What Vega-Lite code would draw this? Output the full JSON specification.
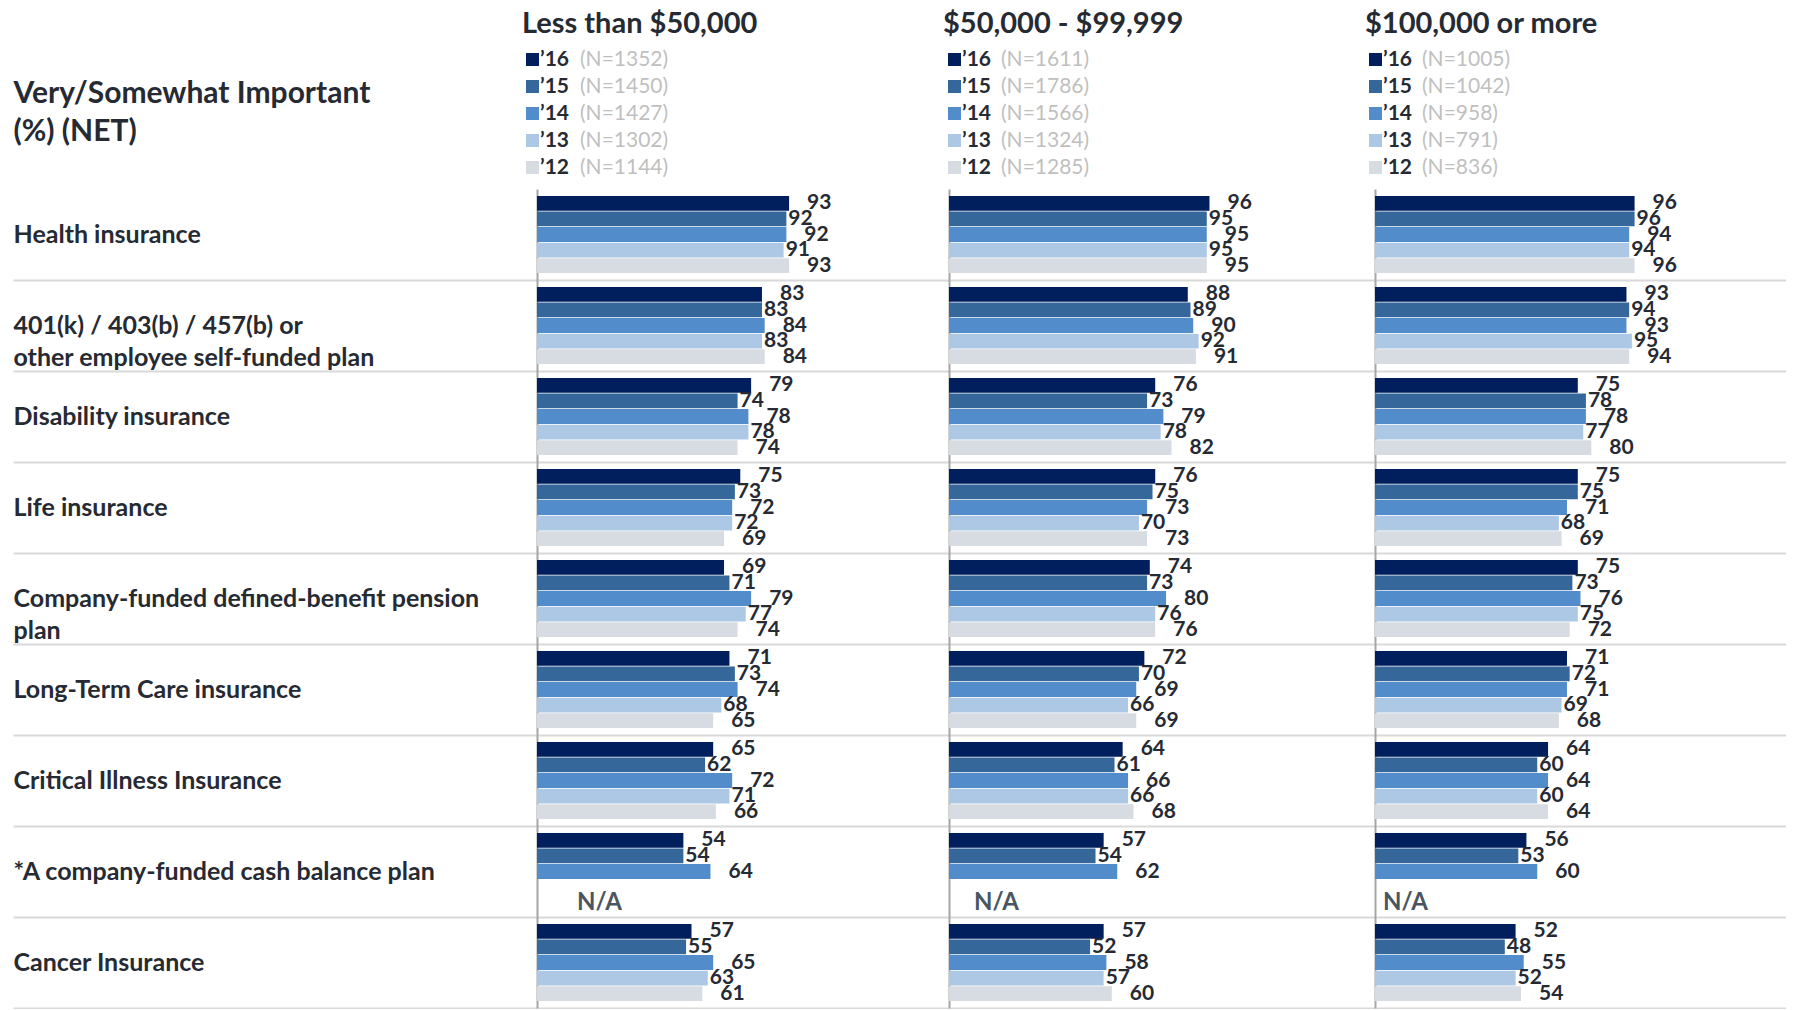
{
"$schema": "https://vega.github.io/schema/vega-lite/v6.json",
"padding": {"left": 12, "top": 10, "right": 0, "bottom": 0},
"background": "white",
"config": {"view": {"stroke": null}, "font": "Lato"},
"datasets": {
"p1": [
{"item":"Health insurance","year":"’16","v":93,"n":"(N=1352)"},
{"item":"Health insurance","year":"’15","v":92,"n":"(N=1450)"},
{"item":"Health insurance","year":"’14","v":92,"n":"(N=1427)"},
{"item":"Health insurance","year":"’13","v":91,"n":"(N=1302)"},
{"item":"Health insurance","year":"’12","v":93,"n":"(N=1144)"},
{"item":"401(k) / 403(b) / 457(b) or other employee self-funded plan","year":"’16","v":83,"n":"(N=1352)"},
{"item":"401(k) / 403(b) / 457(b) or other employee self-funded plan","year":"’15","v":83,"n":"(N=1450)"},
{"item":"401(k) / 403(b) / 457(b) or other employee self-funded plan","year":"’14","v":84,"n":"(N=1427)"},
{"item":"401(k) / 403(b) / 457(b) or other employee self-funded plan","year":"’13","v":83,"n":"(N=1302)"},
{"item":"401(k) / 403(b) / 457(b) or other employee self-funded plan","year":"’12","v":84,"n":"(N=1144)"},
{"item":"Disability insurance","year":"’16","v":79,"n":"(N=1352)"},
{"item":"Disability insurance","year":"’15","v":74,"n":"(N=1450)"},
{"item":"Disability insurance","year":"’14","v":78,"n":"(N=1427)"},
{"item":"Disability insurance","year":"’13","v":78,"n":"(N=1302)"},
{"item":"Disability insurance","year":"’12","v":74,"n":"(N=1144)"},
{"item":"Life insurance","year":"’16","v":75,"n":"(N=1352)"},
{"item":"Life insurance","year":"’15","v":73,"n":"(N=1450)"},
{"item":"Life insurance","year":"’14","v":72,"n":"(N=1427)"},
{"item":"Life insurance","year":"’13","v":72,"n":"(N=1302)"},
{"item":"Life insurance","year":"’12","v":69,"n":"(N=1144)"},
{"item":"Company-funded defined-benefit pension plan","year":"’16","v":69,"n":"(N=1352)"},
{"item":"Company-funded defined-benefit pension plan","year":"’15","v":71,"n":"(N=1450)"},
{"item":"Company-funded defined-benefit pension plan","year":"’14","v":79,"n":"(N=1427)"},
{"item":"Company-funded defined-benefit pension plan","year":"’13","v":77,"n":"(N=1302)"},
{"item":"Company-funded defined-benefit pension plan","year":"’12","v":74,"n":"(N=1144)"},
{"item":"Long-Term Care insurance","year":"’16","v":71,"n":"(N=1352)"},
{"item":"Long-Term Care insurance","year":"’15","v":73,"n":"(N=1450)"},
{"item":"Long-Term Care insurance","year":"’14","v":74,"n":"(N=1427)"},
{"item":"Long-Term Care insurance","year":"’13","v":68,"n":"(N=1302)"},
{"item":"Long-Term Care insurance","year":"’12","v":65,"n":"(N=1144)"},
{"item":"Critical Illness Insurance","year":"’16","v":65,"n":"(N=1352)"},
{"item":"Critical Illness Insurance","year":"’15","v":62,"n":"(N=1450)"},
{"item":"Critical Illness Insurance","year":"’14","v":72,"n":"(N=1427)"},
{"item":"Critical Illness Insurance","year":"’13","v":71,"n":"(N=1302)"},
{"item":"Critical Illness Insurance","year":"’12","v":66,"n":"(N=1144)"},
{"item":"*A company-funded cash balance plan","year":"’16","v":54,"n":"(N=1352)"},
{"item":"*A company-funded cash balance plan","year":"’15","v":54,"n":"(N=1450)"},
{"item":"*A company-funded cash balance plan","year":"’14","v":64,"n":"(N=1427)"},
{"item":"*A company-funded cash balance plan","year":"’13","v":null,"n":"(N=1302)"},
{"item":"*A company-funded cash balance plan","year":"’12","v":null,"n":"(N=1144)"},
{"item":"Cancer Insurance","year":"’16","v":57,"n":"(N=1352)"},
{"item":"Cancer Insurance","year":"’15","v":55,"n":"(N=1450)"},
{"item":"Cancer Insurance","year":"’14","v":65,"n":"(N=1427)"},
{"item":"Cancer Insurance","year":"’13","v":63,"n":"(N=1302)"},
{"item":"Cancer Insurance","year":"’12","v":61,"n":"(N=1144)"}
],
"p2": [
{"item":"Health insurance","year":"’16","v":96,"n":"(N=1611)"},
{"item":"Health insurance","year":"’15","v":95,"n":"(N=1786)"},
{"item":"Health insurance","year":"’14","v":95,"n":"(N=1566)"},
{"item":"Health insurance","year":"’13","v":95,"n":"(N=1324)"},
{"item":"Health insurance","year":"’12","v":95,"n":"(N=1285)"},
{"item":"401(k) / 403(b) / 457(b) or other employee self-funded plan","year":"’16","v":88,"n":"(N=1611)"},
{"item":"401(k) / 403(b) / 457(b) or other employee self-funded plan","year":"’15","v":89,"n":"(N=1786)"},
{"item":"401(k) / 403(b) / 457(b) or other employee self-funded plan","year":"’14","v":90,"n":"(N=1566)"},
{"item":"401(k) / 403(b) / 457(b) or other employee self-funded plan","year":"’13","v":92,"n":"(N=1324)"},
{"item":"401(k) / 403(b) / 457(b) or other employee self-funded plan","year":"’12","v":91,"n":"(N=1285)"},
{"item":"Disability insurance","year":"’16","v":76,"n":"(N=1611)"},
{"item":"Disability insurance","year":"’15","v":73,"n":"(N=1786)"},
{"item":"Disability insurance","year":"’14","v":79,"n":"(N=1566)"},
{"item":"Disability insurance","year":"’13","v":78,"n":"(N=1324)"},
{"item":"Disability insurance","year":"’12","v":82,"n":"(N=1285)"},
{"item":"Life insurance","year":"’16","v":76,"n":"(N=1611)"},
{"item":"Life insurance","year":"’15","v":75,"n":"(N=1786)"},
{"item":"Life insurance","year":"’14","v":73,"n":"(N=1566)"},
{"item":"Life insurance","year":"’13","v":70,"n":"(N=1324)"},
{"item":"Life insurance","year":"’12","v":73,"n":"(N=1285)"},
{"item":"Company-funded defined-benefit pension plan","year":"’16","v":74,"n":"(N=1611)"},
{"item":"Company-funded defined-benefit pension plan","year":"’15","v":73,"n":"(N=1786)"},
{"item":"Company-funded defined-benefit pension plan","year":"’14","v":80,"n":"(N=1566)"},
{"item":"Company-funded defined-benefit pension plan","year":"’13","v":76,"n":"(N=1324)"},
{"item":"Company-funded defined-benefit pension plan","year":"’12","v":76,"n":"(N=1285)"},
{"item":"Long-Term Care insurance","year":"’16","v":72,"n":"(N=1611)"},
{"item":"Long-Term Care insurance","year":"’15","v":70,"n":"(N=1786)"},
{"item":"Long-Term Care insurance","year":"’14","v":69,"n":"(N=1566)"},
{"item":"Long-Term Care insurance","year":"’13","v":66,"n":"(N=1324)"},
{"item":"Long-Term Care insurance","year":"’12","v":69,"n":"(N=1285)"},
{"item":"Critical Illness Insurance","year":"’16","v":64,"n":"(N=1611)"},
{"item":"Critical Illness Insurance","year":"’15","v":61,"n":"(N=1786)"},
{"item":"Critical Illness Insurance","year":"’14","v":66,"n":"(N=1566)"},
{"item":"Critical Illness Insurance","year":"’13","v":66,"n":"(N=1324)"},
{"item":"Critical Illness Insurance","year":"’12","v":68,"n":"(N=1285)"},
{"item":"*A company-funded cash balance plan","year":"’16","v":57,"n":"(N=1611)"},
{"item":"*A company-funded cash balance plan","year":"’15","v":54,"n":"(N=1786)"},
{"item":"*A company-funded cash balance plan","year":"’14","v":62,"n":"(N=1566)"},
{"item":"*A company-funded cash balance plan","year":"’13","v":null,"n":"(N=1324)"},
{"item":"*A company-funded cash balance plan","year":"’12","v":null,"n":"(N=1285)"},
{"item":"Cancer Insurance","year":"’16","v":57,"n":"(N=1611)"},
{"item":"Cancer Insurance","year":"’15","v":52,"n":"(N=1786)"},
{"item":"Cancer Insurance","year":"’14","v":58,"n":"(N=1566)"},
{"item":"Cancer Insurance","year":"’13","v":57,"n":"(N=1324)"},
{"item":"Cancer Insurance","year":"’12","v":60,"n":"(N=1285)"}
],
"p3": [
{"item":"Health insurance","year":"’16","v":96,"n":"(N=1005)"},
{"item":"Health insurance","year":"’15","v":96,"n":"(N=1042)"},
{"item":"Health insurance","year":"’14","v":94,"n":"(N=958)"},
{"item":"Health insurance","year":"’13","v":94,"n":"(N=791)"},
{"item":"Health insurance","year":"’12","v":96,"n":"(N=836)"},
{"item":"401(k) / 403(b) / 457(b) or other employee self-funded plan","year":"’16","v":93,"n":"(N=1005)"},
{"item":"401(k) / 403(b) / 457(b) or other employee self-funded plan","year":"’15","v":94,"n":"(N=1042)"},
{"item":"401(k) / 403(b) / 457(b) or other employee self-funded plan","year":"’14","v":93,"n":"(N=958)"},
{"item":"401(k) / 403(b) / 457(b) or other employee self-funded plan","year":"’13","v":95,"n":"(N=791)"},
{"item":"401(k) / 403(b) / 457(b) or other employee self-funded plan","year":"’12","v":94,"n":"(N=836)"},
{"item":"Disability insurance","year":"’16","v":75,"n":"(N=1005)"},
{"item":"Disability insurance","year":"’15","v":78,"n":"(N=1042)"},
{"item":"Disability insurance","year":"’14","v":78,"n":"(N=958)"},
{"item":"Disability insurance","year":"’13","v":77,"n":"(N=791)"},
{"item":"Disability insurance","year":"’12","v":80,"n":"(N=836)"},
{"item":"Life insurance","year":"’16","v":75,"n":"(N=1005)"},
{"item":"Life insurance","year":"’15","v":75,"n":"(N=1042)"},
{"item":"Life insurance","year":"’14","v":71,"n":"(N=958)"},
{"item":"Life insurance","year":"’13","v":68,"n":"(N=791)"},
{"item":"Life insurance","year":"’12","v":69,"n":"(N=836)"},
{"item":"Company-funded defined-benefit pension plan","year":"’16","v":75,"n":"(N=1005)"},
{"item":"Company-funded defined-benefit pension plan","year":"’15","v":73,"n":"(N=1042)"},
{"item":"Company-funded defined-benefit pension plan","year":"’14","v":76,"n":"(N=958)"},
{"item":"Company-funded defined-benefit pension plan","year":"’13","v":75,"n":"(N=791)"},
{"item":"Company-funded defined-benefit pension plan","year":"’12","v":72,"n":"(N=836)"},
{"item":"Long-Term Care insurance","year":"’16","v":71,"n":"(N=1005)"},
{"item":"Long-Term Care insurance","year":"’15","v":72,"n":"(N=1042)"},
{"item":"Long-Term Care insurance","year":"’14","v":71,"n":"(N=958)"},
{"item":"Long-Term Care insurance","year":"’13","v":69,"n":"(N=791)"},
{"item":"Long-Term Care insurance","year":"’12","v":68,"n":"(N=836)"},
{"item":"Critical Illness Insurance","year":"’16","v":64,"n":"(N=1005)"},
{"item":"Critical Illness Insurance","year":"’15","v":60,"n":"(N=1042)"},
{"item":"Critical Illness Insurance","year":"’14","v":64,"n":"(N=958)"},
{"item":"Critical Illness Insurance","year":"’13","v":60,"n":"(N=791)"},
{"item":"Critical Illness Insurance","year":"’12","v":64,"n":"(N=836)"},
{"item":"*A company-funded cash balance plan","year":"’16","v":56,"n":"(N=1005)"},
{"item":"*A company-funded cash balance plan","year":"’15","v":53,"n":"(N=1042)"},
{"item":"*A company-funded cash balance plan","year":"’14","v":60,"n":"(N=958)"},
{"item":"*A company-funded cash balance plan","year":"’13","v":null,"n":"(N=791)"},
{"item":"*A company-funded cash balance plan","year":"’12","v":null,"n":"(N=836)"},
{"item":"Cancer Insurance","year":"’16","v":52,"n":"(N=1005)"},
{"item":"Cancer Insurance","year":"’15","v":48,"n":"(N=1042)"},
{"item":"Cancer Insurance","year":"’14","v":55,"n":"(N=958)"},
{"item":"Cancer Insurance","year":"’13","v":52,"n":"(N=791)"},
{"item":"Cancer Insurance","year":"’12","v":54,"n":"(N=836)"}
]
},
"bounds": "flush",
"spacing": 0,
"resolve": {"scale": {"x": "independent", "y": "independent", "color": "independent", "opacity": "independent"}, "legend": {"color": "independent", "opacity": "independent"}},
"hconcat": [
{
"width": 412, "height": 819,
"data": {"name": "p1"},
"title": {"text": "Less than $50,000", "anchor": "start", "frame": "group", "offset": -13, "baseline": "alphabetic", "dx": -15, "font": "Lato", "fontSize": 29, "fontWeight": "bold", "color": "#262a33"},
"encoding": {
"y": {"field": "item", "type": "nominal", "sort": ["Health insurance","401(k) / 403(b) / 457(b) or other employee self-funded plan","Disability insurance","Life insurance","Company-funded defined-benefit pension plan","Long-Term Care insurance","Critical Illness Insurance","*A company-funded cash balance plan","Cancer Insurance"],
 "scale": {"paddingInner": 0, "paddingOuter": 0},
 "axis": {"title": ["Very/Somewhat Important", "(%) (NET)"], "titleAngle": 0, "titleAlign": "left", "titleBaseline": "top", "titleX": -524, "titleY": -111, "titleFont": "Lato", "titleFontSize": 30, "titleFontWeight": "bold", "titleColor": "#262a33", "titleLineHeight": 38,
  "labelAlign": "left", "labelBaseline": "middle", "labelPadding": 0, "labelFont": "Lato", "labelFontSize": 25, "labelFontWeight": "bold", "labelColor": "#262a33", "labelLimit": 520, "labelLineHeight": 32,
  "labelExpr": "datum.label == '401(k) / 403(b) / 457(b) or other employee self-funded plan' ? ['401(k) / 403(b) / 457(b) or', 'other employee self-funded plan'] : datum.label == 'Company-funded defined-benefit pension plan' ? ['Company-funded defined-benefit pension', 'plan'] : datum.label",
  "tickBand": "extent", "tickSize": 524, "tickColor": "#d9d9d9", "tickWidth": 2,
  "tickOpacity": {"condition": {"test": "datum.extra", "value": 0}, "value": 1},
  "grid": true, "gridColor": "#d9d9d9", "gridWidth": 2,
  "gridOpacity": {"condition": {"test": "datum.extra", "value": 0}, "value": 1},
  "domainColor": "#a6a6a6", "domainWidth": 2}},
"yOffset": {"field": "year", "type": "nominal", "sort": ["’16","’15","’14","’13","’12"], "scale": {"paddingInner": 0.05, "paddingOuter": 0.45}},
"x": {"field": "v", "type": "quantitative", "scale": {"domain": [0, 152], "nice": false}, "axis": null}
},
"layer": [
{"mark": {"type": "bar"},
 "encoding": {
 "color": {"field": "year", "type": "nominal", "scale": {"domain": ["’16","’15","’14","’13","’12"], "range": ["#001f5c","#35679a","#538ccb","#adc8e5","#d7dce3"]},
  "legend": {"orient": "none", "legendX": -15, "legendY": -140, "direction": "vertical", "title": null, "symbolType": "square", "symbolSize": 169, "symbolStrokeWidth": 0, "labelFont": "Lato", "labelFontSize": 21, "labelFontWeight": "bold", "labelColor": "#262a33", "labelOffset": -3, "rowPadding": 5, "padding": 0}},
 "opacity": {"field": "n", "type": "ordinal", "scale": {"domain": ["(N=1352)","(N=1450)","(N=1427)","(N=1302)","(N=1144)"], "range": [1, 1]},
  "legend": {"orient": "none", "legendX": 22, "legendY": -140, "direction": "vertical", "title": null, "symbolSize": 0, "symbolStrokeWidth": 0, "symbolOpacity": 0, "labelOffset": 0, "labelFont": "Lato", "labelFontSize": 21, "labelColor": "#bfbfbf", "rowPadding": 5, "padding": 0}}
 }},
{"transform": [{"filter": "datum.year === '’16' || datum.year === '’14' || datum.year === '’12'"}],
 "mark": {"type": "text", "align": "left", "baseline": "middle", "dx": 18, "font": "Lato", "fontSize": 21, "fontWeight": "bold", "color": "#262a33"},
 "encoding": {"text": {"field": "v", "type": "quantitative"}}},
{"transform": [{"filter": "datum.year === '’15' || datum.year === '’13'"}],
 "mark": {"type": "text", "align": "left", "baseline": "middle", "dx": 2, "font": "Lato", "fontSize": 21, "fontWeight": "bold", "color": "#262a33"},
 "encoding": {"text": {"field": "v", "type": "quantitative"}}},
{"transform": [{"filter": "!isValid(datum.v) && datum.year === '’13'"}],
 "mark": {"type": "text", "invalid": null, "align": "left", "baseline": "middle", "dx": 40, "dy": 16, "font": "Lato", "fontSize": 24, "fontWeight": "bold", "color": "#4a5562"},
 "encoding": {"text": {"value": "N/A"}}}
]
},
{
"width": 426, "height": 819,
"data": {"name": "p2"},
"title": {"text": "$50,000 - $99,999", "anchor": "start", "frame": "group", "offset": -13, "baseline": "alphabetic", "dx": -6, "font": "Lato", "fontSize": 29, "fontWeight": "bold", "color": "#262a33"},
"encoding": {
"y": {"field": "item", "type": "nominal", "sort": ["Health insurance","401(k) / 403(b) / 457(b) or other employee self-funded plan","Disability insurance","Life insurance","Company-funded defined-benefit pension plan","Long-Term Care insurance","Critical Illness Insurance","*A company-funded cash balance plan","Cancer Insurance"],
 "scale": {"paddingInner": 0, "paddingOuter": 0},
 "axis": {"title": null, "labels": false, "ticks": false, "tickBand": "extent",
  "grid": true, "gridColor": "#d9d9d9", "gridWidth": 2,
  "gridOpacity": {"condition": {"test": "datum.extra", "value": 0}, "value": 1},
  "domainColor": "#a6a6a6", "domainWidth": 2}},
"yOffset": {"field": "year", "type": "nominal", "sort": ["’16","’15","’14","’13","’12"], "scale": {"paddingInner": 0.05, "paddingOuter": 0.45}},
"x": {"field": "v", "type": "quantitative", "scale": {"domain": [0, 157], "nice": false}, "axis": null}
},
"layer": [
{"mark": {"type": "bar"},
 "encoding": {
 "color": {"field": "year", "type": "nominal", "scale": {"domain": ["’16","’15","’14","’13","’12"], "range": ["#001f5c","#35679a","#538ccb","#adc8e5","#d7dce3"]},
  "legend": {"orient": "none", "legendX": -5, "legendY": -140, "direction": "vertical", "title": null, "symbolType": "square", "symbolSize": 169, "symbolStrokeWidth": 0, "labelFont": "Lato", "labelFontSize": 21, "labelFontWeight": "bold", "labelColor": "#262a33", "labelOffset": -3, "rowPadding": 5, "padding": 0}},
 "opacity": {"field": "n", "type": "ordinal", "scale": {"domain": ["(N=1611)","(N=1786)","(N=1566)","(N=1324)","(N=1285)"], "range": [1, 1]},
  "legend": {"orient": "none", "legendX": 31, "legendY": -140, "direction": "vertical", "title": null, "symbolSize": 0, "symbolStrokeWidth": 0, "symbolOpacity": 0, "labelOffset": 0, "labelFont": "Lato", "labelFontSize": 21, "labelColor": "#bfbfbf", "rowPadding": 5, "padding": 0}}
 }},
{"transform": [{"filter": "datum.year === '’16' || datum.year === '’14' || datum.year === '’12'"}],
 "mark": {"type": "text", "align": "left", "baseline": "middle", "dx": 18, "font": "Lato", "fontSize": 21, "fontWeight": "bold", "color": "#262a33"},
 "encoding": {"text": {"field": "v", "type": "quantitative"}}},
{"transform": [{"filter": "datum.year === '’15' || datum.year === '’13'"}],
 "mark": {"type": "text", "align": "left", "baseline": "middle", "dx": 2, "font": "Lato", "fontSize": 21, "fontWeight": "bold", "color": "#262a33"},
 "encoding": {"text": {"field": "v", "type": "quantitative"}}},
{"transform": [{"filter": "!isValid(datum.v) && datum.year === '’13'"}],
 "mark": {"type": "text", "invalid": null, "align": "left", "baseline": "middle", "dx": 25, "dy": 16, "font": "Lato", "fontSize": 24, "fontWeight": "bold", "color": "#4a5562"},
 "encoding": {"text": {"value": "N/A"}}}
]
},
{
"width": 411, "height": 819,
"data": {"name": "p3"},
"title": {"text": "$100,000 or more", "anchor": "start", "frame": "group", "offset": -13, "baseline": "alphabetic", "dx": -10, "font": "Lato", "fontSize": 29, "fontWeight": "bold", "color": "#262a33"},
"encoding": {
"y": {"field": "item", "type": "nominal", "sort": ["Health insurance","401(k) / 403(b) / 457(b) or other employee self-funded plan","Disability insurance","Life insurance","Company-funded defined-benefit pension plan","Long-Term Care insurance","Critical Illness Insurance","*A company-funded cash balance plan","Cancer Insurance"],
 "scale": {"paddingInner": 0, "paddingOuter": 0},
 "axis": {"title": null, "labels": false, "ticks": false, "tickBand": "extent",
  "grid": true, "gridColor": "#d9d9d9", "gridWidth": 2,
  "gridOpacity": {"condition": {"test": "datum.extra", "value": 0}, "value": 1},
  "domainColor": "#a6a6a6", "domainWidth": 2}},
"yOffset": {"field": "year", "type": "nominal", "sort": ["’16","’15","’14","’13","’12"], "scale": {"paddingInner": 0.05, "paddingOuter": 0.45}},
"x": {"field": "v", "type": "quantitative", "scale": {"domain": [0, 152], "nice": false}, "axis": null}
},
"layer": [
{"mark": {"type": "bar"},
 "encoding": {
 "color": {"field": "year", "type": "nominal", "scale": {"domain": ["’16","’15","’14","’13","’12"], "range": ["#001f5c","#35679a","#538ccb","#adc8e5","#d7dce3"]},
  "legend": {"orient": "none", "legendX": -10, "legendY": -140, "direction": "vertical", "title": null, "symbolType": "square", "symbolSize": 169, "symbolStrokeWidth": 0, "labelFont": "Lato", "labelFontSize": 21, "labelFontWeight": "bold", "labelColor": "#262a33", "labelOffset": -3, "rowPadding": 5, "padding": 0}},
 "opacity": {"field": "n", "type": "ordinal", "scale": {"domain": ["(N=1005)","(N=1042)","(N=958)","(N=791)","(N=836)"], "range": [1, 1]},
  "legend": {"orient": "none", "legendX": 26, "legendY": -140, "direction": "vertical", "title": null, "symbolSize": 0, "symbolStrokeWidth": 0, "symbolOpacity": 0, "labelOffset": 0, "labelFont": "Lato", "labelFontSize": 21, "labelColor": "#bfbfbf", "rowPadding": 5, "padding": 0}}
 }},
{"transform": [{"filter": "datum.year === '’16' || datum.year === '’14' || datum.year === '’12'"}],
 "mark": {"type": "text", "align": "left", "baseline": "middle", "dx": 18, "font": "Lato", "fontSize": 21, "fontWeight": "bold", "color": "#262a33"},
 "encoding": {"text": {"field": "v", "type": "quantitative"}}},
{"transform": [{"filter": "datum.year === '’15' || datum.year === '’13'"}],
 "mark": {"type": "text", "align": "left", "baseline": "middle", "dx": 2, "font": "Lato", "fontSize": 21, "fontWeight": "bold", "color": "#262a33"},
 "encoding": {"text": {"field": "v", "type": "quantitative"}}},
{"transform": [{"filter": "!isValid(datum.v) && datum.year === '’13'"}],
 "mark": {"type": "text", "invalid": null, "align": "left", "baseline": "middle", "dx": 8, "dy": 16, "font": "Lato", "fontSize": 24, "fontWeight": "bold", "color": "#4a5562"},
 "encoding": {"text": {"value": "N/A"}}}
]
}
]
}
